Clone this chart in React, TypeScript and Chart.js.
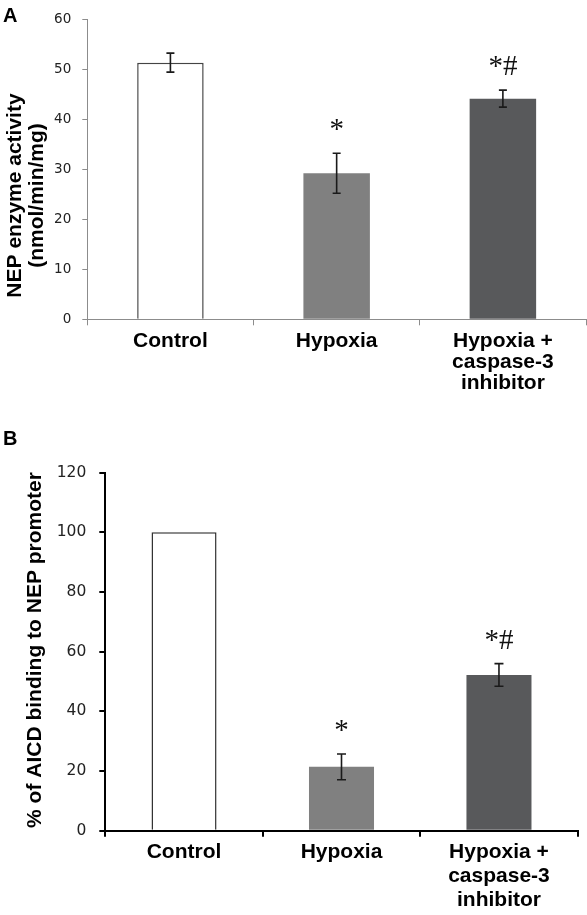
import React, { useEffect, useRef } from "react";
import { Chart, registerables } from "chart.js";

Chart.register(...registerables);

// ---------- data ----------
const categories: string[][] = [["Control"], ["Hypoxia"], ["Hypoxia +", "caspase-3", "inhibitor"]];
const nepActivity = [51.3, 29.2, 44.1];
const nepActivityErr = [1.9, 4.0, 1.7];
const aicdBinding = [100, 21.4, 52.2];
const aicdBindingErr = [0, 4.3, 3.8];
const significance = ["", "*", "*#"];
const nepTitle = ["NEP enzyme activity", "(nmol/min/mg)"];
const aicdTitle = ["% of AICD binding to NEP promoter"];
const barColors = ["#ffffff", "#808080", "#58595b"];
const barBorders = [1.5, 0, 0];

const overlayPlugin = {
  id: "overlay",
  afterDatasetsDraw(chart: any, _args: any, opts: any) {
    const ctx: CanvasRenderingContext2D = chart.ctx;
    const y = chart.scales.y;
    const meta = chart.getDatasetMeta(0);
    ctx.save();
    opts.values.forEach((v: number, i: number) => {
      const e = opts.errors[i];
      const cx = meta.data[i].x;
      if (e > 0) {
        const yt = y.getPixelForValue(v + e);
        const yb = y.getPixelForValue(v - e);
        ctx.strokeStyle = "#1a1a1a";
        ctx.lineWidth = 1.6;
        ctx.beginPath();
        ctx.moveTo(cx, yt);
        ctx.lineTo(cx, yb);
        ctx.moveTo(cx - opts.cap, yt);
        ctx.lineTo(cx + opts.cap, yt);
        ctx.moveTo(cx - opts.cap, yb);
        ctx.lineTo(cx + opts.cap, yb);
        ctx.stroke();
      }
      const s = opts.sig[i];
      if (s) {
        const top = y.getPixelForValue(v + e);
        ctx.fillStyle = "#111";
        ctx.font = '29px "Liberation Serif"';
        ctx.textAlign = "center";
        ctx.textBaseline = "alphabetic";
        ctx.fillText(s, cx, top - 15);
      }
    });
    // axis title (rotated)
    ctx.save();
    ctx.translate(opts.titleX, opts.titleY);
    ctx.rotate(-Math.PI / 2);
    ctx.fillStyle = "#000";
    ctx.font = 'bold 21px "Liberation Sans"';
    ctx.textAlign = "center";
    ctx.textBaseline = "alphabetic";
    opts.title.forEach((line: string, k: number) => {
      ctx.fillText(line, 0, k * opts.titleGap);
    });
    ctx.restore();
    // panel letter
    ctx.fillStyle = "#000";
    ctx.font = 'bold 20px "Liberation Sans"';
    ctx.textAlign = "left";
    ctx.textBaseline = "alphabetic";
    ctx.fillText(opts.letter, opts.letterX, opts.letterY);
    ctx.restore();
  },
};

function makeConfig(p: any) {
  return {
    type: "bar",
    data: {
      labels: categories,
      datasets: [
        {
          data: p.values,
          backgroundColor: barColors,
          borderColor: p.barBorder,
          borderWidth: barBorders,
          barPercentage: p.barPct,
          categoryPercentage: 1,
        },
      ],
    },
    options: {
      responsive: false,
      animation: false,
      layout: { padding: { top: p.padTop, right: p.padRight, left: 0, bottom: 0 } },
      plugins: {
        legend: { display: false },
        tooltip: { enabled: false },
        overlay: {
          values: p.values,
          errors: p.errors,
          sig: significance,
          cap: p.cap,
          title: p.title,
          titleX: p.titleX,
          titleY: p.titleY,
          titleGap: p.titleGap,
          letter: p.letter,
          letterX: 3,
          letterY: p.letterY,
        },
      },
      scales: {
        x: {
          grid: {
            drawOnChartArea: false,
            drawTicks: true,
            tickLength: 6,
            color: p.axisColor,
            lineWidth: p.axisWidth,
          },
          border: { color: p.axisColor, width: p.axisWidth },
          ticks: {
            color: "#000",
            font: { family: "Liberation Sans", size: 21, weight: "bold", lineHeight: p.xLineHeight },
            padding: p.xPad,
            maxRotation: 0,
            autoSkip: false,
          },
          afterFit: (s: any) => {
            s.height = p.xHeight;
          },
        },
        y: {
          min: 0,
          max: p.max,
          ticks: {
            stepSize: p.step,
            color: "#222",
            font: { family: "DejaVu Sans", size: p.yFont },
            padding: p.yPad,
          },
          grid: {
            drawOnChartArea: false,
            drawTicks: true,
            tickLength: p.yTick,
            color: p.axisColor,
            lineWidth: p.axisWidth,
          },
          border: { color: p.axisColor, width: p.axisWidth },
          afterFit: (s: any) => {
            s.width = p.yWidth;
          },
        },
      },
    },
    plugins: [overlayPlugin],
  };
}

const panelA = {
  values: nepActivity,
  errors: nepActivityErr,
  barBorder: "#444",
  barPct: 0.4,
  padTop: 16.7,
  padRight: 1,
  cap: 4,
  title: nepTitle,
  titleX: 20.5,
  titleY: 195.5,
  titleGap: 22.5,
  letter: "A",
  letterY: 21.7,
  axisColor: "#8c8c8c",
  axisWidth: 1,
  xLineHeight: 1.0,
  xPad: 5.5,
  xHeight: 100.7,
  max: 60,
  step: 10,
  yFont: 13.5,
  yPad: 11,
  yTick: 5,
  yWidth: 87.3,
};

const panelB = {
  values: aicdBinding,
  errors: aicdBindingErr,
  barBorder: "#333",
  barPct: 0.413,
  padTop: 52.7,
  padRight: 9.3,
  cap: 4.5,
  title: aicdTitle,
  titleX: 40.7,
  titleY: 230,
  titleGap: 22.5,
  letter: "B",
  letterY: 25,
  axisColor: "#000",
  axisWidth: 2,
  xLineHeight: 1.143,
  xPad: 3.3,
  xHeight: 84.3,
  max: 120,
  step: 20,
  yFont: 15.5,
  yPad: 13,
  yTick: 6,
  yWidth: 105.3,
};

function Panel({ cfg, top, height }: { cfg: any; top: number; height: number }) {
  const ref = useRef<HTMLCanvasElement>(null);
  useEffect(() => {
    if (!ref.current) return;
    const chart = new Chart(ref.current, makeConfig(cfg) as any);
    return () => chart.destroy();
  }, [cfg]);
  return (
    <canvas
      ref={ref}
      width={587}
      height={height}
      style={{ position: "absolute", left: 0, top, width: 587, height }}
    />
  );
}

export default function App() {
  return (
    <div style={{ position: "absolute", left: 0, top: 0, width: 587, height: 915, background: "#fff" }}>
      <Panel cfg={panelA} top={0} height={420} />
      <Panel cfg={panelB} top={420} height={495} />
    </div>
  );
}
